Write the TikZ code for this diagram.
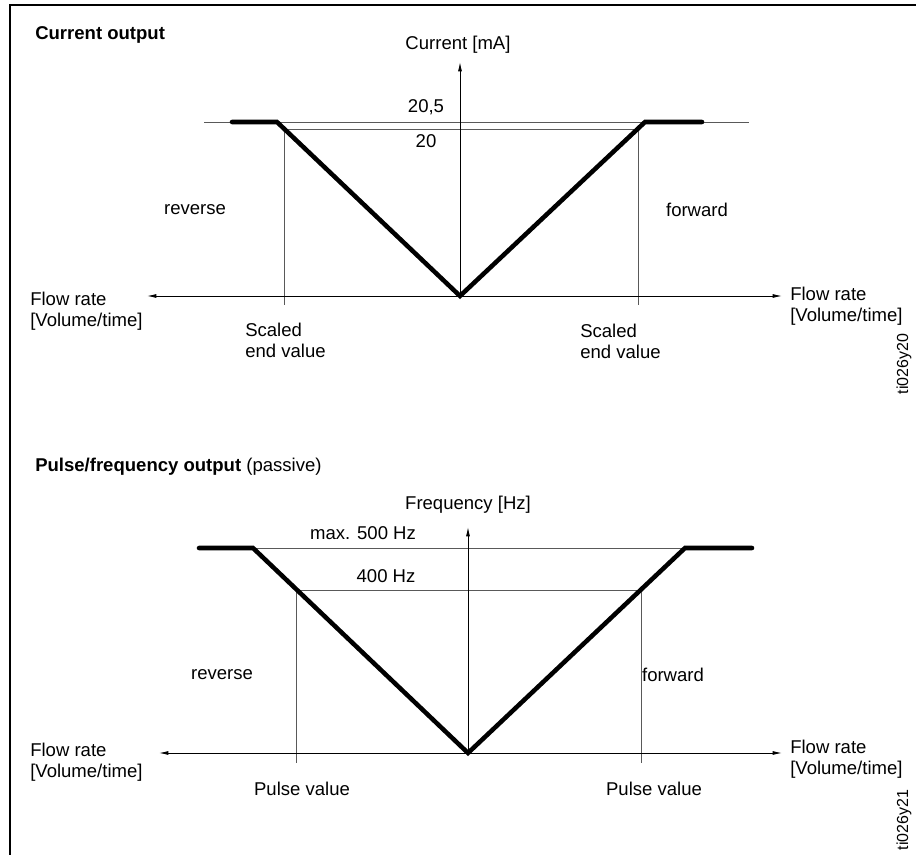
\documentclass[tikz,border=0pt]{standalone}
\usepackage{fontspec}
\setmainfont{Liberation Sans}
\usetikzlibrary{arrows.meta}
\begin{document}
\begin{tikzpicture}[x=0.75pt,y=-0.75pt,
  axis/.style={line width=0.7pt,{Latex[length=7pt,width=3pt]}-{Latex[length=7pt,width=3pt]}},
  upaxis/.style={line width=0.7pt,-{Latex[length=7pt,width=3pt]}},
  guide/.style={line width=0.6pt,black!65},
  curve/.style={line width=3.4pt,line cap=round,line join=miter},
  lbl/.style={inner sep=0pt,font=\fontsize{13.9}{15.75}\selectfont},
  tag/.style={inner sep=0pt,rotate=90,font=\fontsize{12}{13}\selectfont}]
\useasboundingbox (0,0) rectangle (916,855);
\draw[line width=1pt] (10,855) -- (10,5) -- (916,5);
\node[lbl,anchor=west] (t1) at (35,35) {\bfseries Current output};
\draw[guide] (204,122) -- (749,122);
\draw[guide] (284,129) -- (638,129);
\draw[guide] (284,129) -- (284,305);
\draw[guide] (638,129) -- (638,305);
\draw[upaxis] (460,296) -- (460,62);
\draw[axis] (147,296) -- (782,296);
\draw[curve] (232,122) -- (277,122) -- (460,296) -- (645,122) -- (702,122);
\node[lbl] (y1) at (458,45) {Current [mA]};
\node[lbl] (v205) at (426,107) {20,5};
\node[lbl] (v20) at (426,141) {20};
\node[lbl] (rev1) at (195,210) {reverse};
\node[lbl] (fwd1) at (697,210) {forward};
\node[lbl,anchor=west,align=left] (se1) at (245,340) {Scaled\\end value};
\node[lbl,anchor=west,align=left] (se2) at (580,341) {Scaled\\end value};
\node[lbl,anchor=west,align=left] (fl1) at (30,311) {Flow rate\\{}[Volume/time]};
\node[lbl,anchor=west,align=left] (fr1) at (790,306) {Flow rate\\{}[Volume/time]};
\node[tag] (id1) at (904,364) {ti026y20};
\node[lbl,anchor=west] (t2) at (35,467) {\textbf{Pulse/frequency output} (passive)};
\draw[guide] (253,548) -- (685,548);
\draw[guide] (296,590) -- (641,590);
\draw[guide] (296,590) -- (296,763);
\draw[guide] (641,590) -- (641,763);
\draw[upaxis] (468,753) -- (468,527);
\draw[axis] (159,753) -- (782,753);
\draw[curve] (199,548) -- (253,548) -- (468,753) -- (685,548) -- (752,548);
\node[lbl] (y2) at (468,505) {Frequency [Hz]};
\node[lbl] (v500) at (363,533) {max. 500 Hz};
\node[lbl] (v400) at (386,576) {400 Hz};
\node[lbl] (rev2) at (222,675) {reverse};
\node[lbl] (fwd2) at (673,675) {forward};
\node[lbl] (pv1) at (302,789) {Pulse value};
\node[lbl] (pv2) at (654,789) {Pulse value};
\node[lbl,anchor=west,align=left] (fl2) at (30,762) {Flow rate\\{}[Volume/time]};
\node[lbl,anchor=west,align=left] (fr2) at (790,759) {Flow rate\\{}[Volume/time]};
\node[tag] (id2) at (904,820) {ti026y21};
\end{tikzpicture}
\end{document}
